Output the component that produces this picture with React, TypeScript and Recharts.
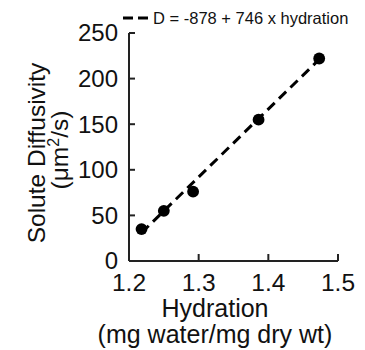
import React from "react";
import { ComposedChart, Scatter, Line, XAxis, YAxis, ZAxis, Legend } from "recharts";

const hydration = [1.218, 1.25, 1.292, 1.386, 1.473];
const diffusivity = [35, 55, 76, 155, 222];
// ends of the fitted line D = -878 + 746 x hydration
const fitHydration = [1.218, 1.473];
const fitDiffusivity = [31, 221];
const xTicks = [1.2, 1.3, 1.4, 1.5];
const yTicks = [0, 50, 100, 150, 200, 250];
const fitLabel = "D = -878 + 746 x hydration";

const FONT = "'Liberation Sans', Arial, Helvetica, sans-serif";
const INK = "#000000";
const TEXT = "#111111";
const AXIS = "#222222";

const points = hydration.map((h, i) => ({ h, d: diffusivity[i] }));
const fit = fitHydration.map((h, i) => ({ h, d: fitDiffusivity[i] }));

function YTick(p: any) {
  return (
    <text x={p.x} y={p.y + 8.4} textAnchor="end" fontFamily={FONT} fontSize={24} fill={TEXT}>
      {p.payload.value}
    </text>
  );
}

function XTick(p: any) {
  return (
    <text x={p.x} y={p.y + 20} textAnchor="middle" fontFamily={FONT} fontSize={24.5} fill={TEXT}>
      {p.payload.value.toFixed(1)}
    </text>
  );
}

function YLabel({ viewBox }: any) {
  const cy = viewBox.y + viewBox.height / 2;
  return (
    <g fontFamily={FONT} fontSize={24.5} fill={TEXT}>
      <text transform={`translate(45,${cy + 6}) rotate(-90)`} textAnchor="middle">
        Solute Diffusivity
      </text>
      <text transform={`translate(68,${cy + 3}) rotate(-90)`} textAnchor="middle">
        (μm<tspan dy={-9} fontSize={16}>2</tspan>
        <tspan dy={9}>/s)</tspan>
      </text>
    </g>
  );
}

function XLabel({ viewBox }: any) {
  const cx = 215;
  return (
    <g fontFamily={FONT} fontSize={25} fill={TEXT}>
      <text x={cx} y={viewBox.y + 56} textAnchor="middle">
        Hydration
      </text>
      <text x={cx} y={viewBox.y + 82} textAnchor="middle">
        (mg water/mg dry wt)
      </text>
    </g>
  );
}

function FitLegend() {
  return (
    <div style={{ display: "flex", alignItems: "center", fontFamily: FONT, fontSize: 16.5, color: TEXT, lineHeight: "20px" }}>
      <svg width={26} height={8} style={{ display: "block" }}>
        <line x1={0} x2={26} y1={4} y2={4} stroke={INK} strokeWidth={3} strokeDasharray="10 5" />
      </svg>
      <span style={{ marginLeft: 4, whiteSpace: "nowrap" }}>{fitLabel}</span>
    </div>
  );
}

export default function App() {
  return (
    <div style={{ position: "absolute", left: 0, top: 0, width: 365, height: 350, background: "#fff" }}>
      <ComposedChart width={365} height={350} margin={{ top: 33, right: 27, left: 0, bottom: 0 }}>
        <XAxis
          dataKey="h"
          type="number"
          domain={[1.2, 1.5]}
          ticks={xTicks}
          height={89}
          allowDataOverflow
          stroke={AXIS}
          strokeWidth={2}
          tickSize={-7}
          tickMargin={17}
          tick={<XTick />}
          label={<XLabel />}
        />
        <YAxis
          dataKey="d"
          type="number"
          domain={[0, 250]}
          ticks={yTicks}
          width={129}
          stroke={AXIS}
          strokeWidth={2}
          tickSize={-6}
          tickMargin={17}
          tick={<YTick />}
          label={<YLabel />}
        />
        <ZAxis range={[110, 110]} />
        <Legend
          layout="horizontal"
          verticalAlign="middle"
          content={<FitLegend />}
          wrapperStyle={{ top: 8, left: 123, width: 242 }}
        />
        <Line
          data={fit}
          dataKey="d"
          type="linear"
          stroke={INK}
          strokeWidth={3}
          strokeDasharray="10 6"
          dot={false}
          legendType="none"
          isAnimationActive={false}
        />
        <Scatter data={points} dataKey="d" fill={INK} shape="circle" legendType="none" isAnimationActive={false} />
      </ComposedChart>
    </div>
  );
}
